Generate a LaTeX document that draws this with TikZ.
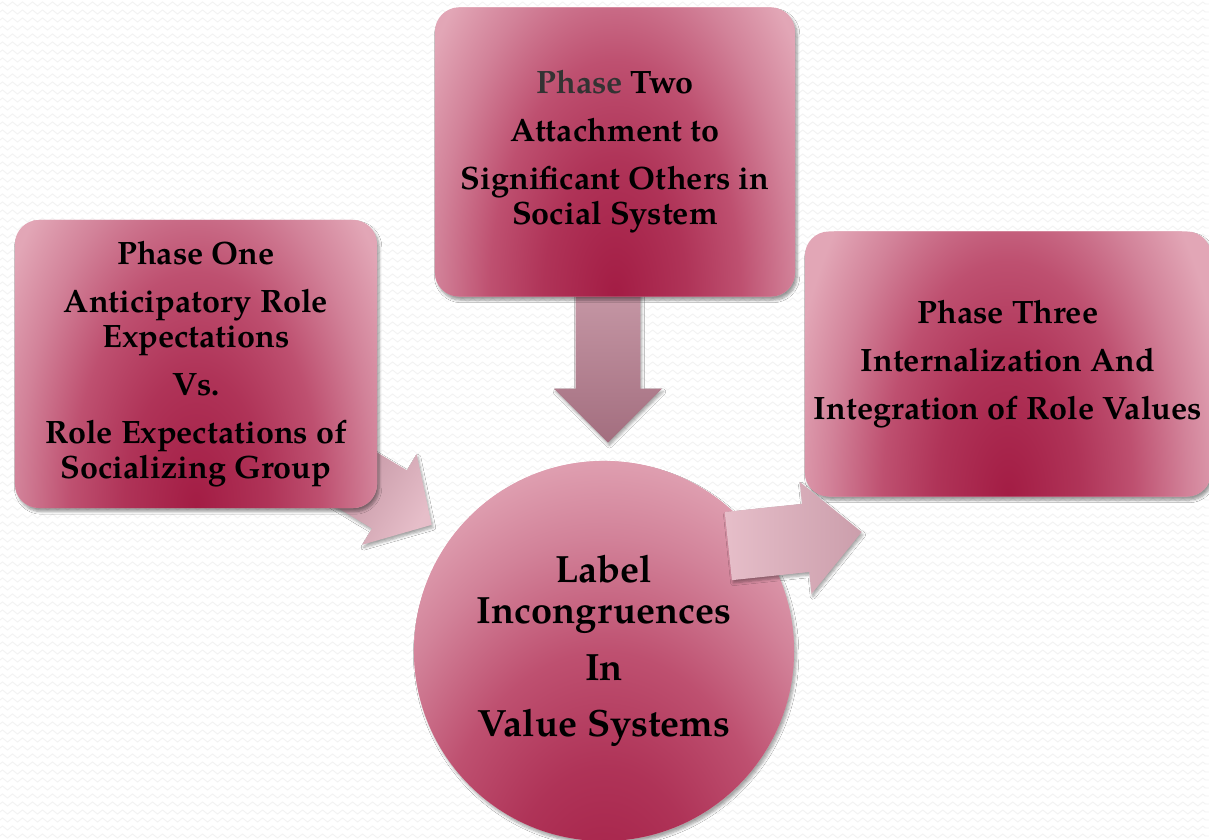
\documentclass[tikz,border=0pt]{standalone}
\usepackage{fontspec}
\setmainfont{TeX Gyre Pagella}
\usepackage{xcolor}
\usepackage{tikz}
\usetikzlibrary{shapes.arrows, shadows.blur, decorations.pathmorphing}

\definecolor{crimson}{RGB}{163,28,68}
\definecolor{rosemid}{RGB}{190,80,112}
\definecolor{roselight}{RGB}{210,130,153}
\definecolor{rosepale}{RGB}{226,166,182}
\definecolor{arrowlight}{RGB}{230,190,201}
\definecolor{arrowdark}{RGB}{163,110,127}

% glow from the bottom edge of each shape
\pgfdeclareradialshading{glow}{\pgfpointorigin}{color(0bp)=(crimson); color(8bp)=(crimson!55!rosemid); color(14bp)=(rosemid); color(20bp)=(roselight); color(25bp)=(rosepale); color(50bp)=(rosepale)}

\tikzset{
  phase/.style={rectangle, rounded corners=0.6cm, fill=rosepale, inner sep=4pt, align=center,
    font=\fontsize{23}{25}\selectfont\bfseries,
    blur shadow={shadow xshift=1.5pt, shadow yshift=-2.5pt, shadow opacity=40, shadow blur steps=6},
    path picture={\shade[shading=glow] (path picture bounding box.south) ellipse [x radius=5.6cm, y radius=10.5cm];}},
  hub/.style={circle, fill=rosepale, minimum size=9.5cm, inner sep=0pt, align=center,
    font=\fontsize{27}{29}\selectfont\bfseries,
    blur shadow={shadow xshift=1.5pt, shadow yshift=-2.5pt, shadow opacity=35, shadow blur steps=6},
    path picture={\shade[shading=glow] ([yshift=-2cm]path picture bounding box.south) ellipse [x radius=8cm, y radius=12cm];}},
  blockarrow/.style={single arrow, single arrow head indent=0pt, inner xsep=0pt, anchor=tip,
    blur shadow={shadow xshift=1pt, shadow yshift=-2pt, shadow opacity=35, shadow blur steps=5}},
  bgzig/.style={black!5, line width=0.6pt, decorate, decoration={zigzag, segment length=0.25cm, amplitude=0.05cm}}
}

\begin{document}
\begin{tikzpicture}[x=0.025cm, y=-0.025cm]
     \useasboundingbox (0,0) rectangle (1209,840);
     \fill[white] (0,0) rectangle (1209,840);
     \foreach \r in {4,12,...,836}
          \draw[bgzig] (0,\r) -- (1209,\r);

     % arrows that run under the boxes, placed by their tips
     \node[blockarrow, rotate=-31, minimum height=3cm, inner ysep=0.84cm,
          single arrow head extend=0.475cm, single arrow tip angle=94,
          top color=arrowdark!65!arrowlight, bottom color=arrowlight, shading angle=59] (E) at (432,525) {};
     \node[blockarrow, rotate=-90, minimum height=4.075cm, inner ysep=0.8cm,
          single arrow head extend=0.54cm, single arrow tip angle=90,
          top color=arrowdark!45!arrowlight, bottom color=arrowdark] (F) at (608,443) {};

     \node[phase, minimum width=9.05cm, minimum height=7.2cm] (A) at (196,364)
          {Phase One\\[9pt] Anticipatory Role\\ Expectations\\[9pt] Vs.\\[9pt] Role Expectations of\\ Socializing Group};
     \node[phase, minimum width=9cm, minimum height=7.225cm] (B) at (615,152)
          {{\color{black!80}Phase} Two\\[9pt] Attachment to\\[9pt] Significant Others in\\ Social System};
     \node[phase, minimum width=10.15cm, minimum height=6.625cm] (C) at (1008,364)
          {Phase Three\\[9pt] Internalization And\\[9pt] Integration of Role Values};

     \node[hub] (D) at (604,651) {Label\\ Incongruences\\[11pt] In\\[11pt] Value Systems};

     % arrow lying over the circle
     \node[blockarrow, rotate=6, minimum height=3.35cm, inner ysep=0.85cm,
          single arrow head extend=0.55cm, single arrow tip angle=90,
          left color=arrowlight, right color=arrowdark!40!arrowlight] (G) at (862,532) {};
\end{tikzpicture}
\end{document}
